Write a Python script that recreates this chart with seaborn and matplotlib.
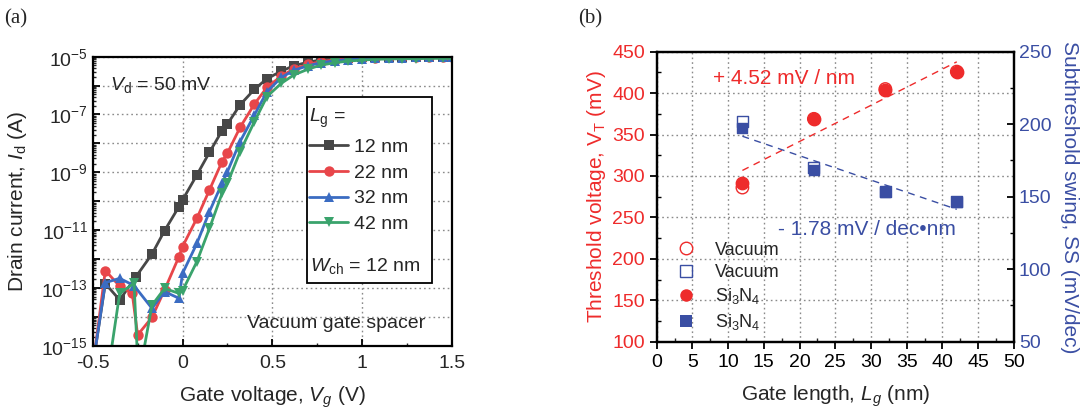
import numpy as np
import pandas as pd
import matplotlib
matplotlib.use("Agg")
import matplotlib.pyplot as plt
import seaborn as sns
from matplotlib.lines import Line2D
from matplotlib.patches import Rectangle
from matplotlib.ticker import LogLocator, MultipleLocator, FixedLocator, FuncFormatter, NullFormatter

# ---------------- data: panel (a) transfer curves ----------------
series_labels = ["12 nm", "22 nm", "32 nm", "42 nm"]

vg_12 = [-0.49, -0.43, -0.35, -0.26, -0.17, -0.10, -0.02, 0.00, 0.08, 0.15, 0.22, 0.25, 0.32, 0.40,
         0.47, 0.55, 0.62, 0.70, 0.77, 0.85, 0.92, 1.00, 1.07, 1.15, 1.22, 1.30, 1.37, 1.45, 1.50]
logid_12 = [-15.3, -12.85, -13.42, -12.62, -11.83, -11.02, -10.19, -9.96, -9.09, -8.31, -7.56, -7.33, -6.67, -6.13,
            -5.76, -5.50, -5.31, -5.19, -5.11, -5.06, -5.03, -5.02, -5.01, -5.00, -5.00, -5.00, -5.00, -5.00, -5.00]

vg_22 = [-0.49, -0.43, -0.35, -0.28, -0.25, -0.17, -0.10, -0.02, 0.00, 0.08, 0.15, 0.22, 0.25, 0.32, 0.40,
         0.47, 0.55, 0.62, 0.70, 0.77, 0.85, 0.92, 1.00, 1.07, 1.15, 1.22, 1.30, 1.37, 1.45, 1.50]
logid_22 = [-15.3, -12.40, -12.94, -13.19, -14.63, -14.02, -13.07, -11.92, -11.57, -10.59, -9.61, -8.63, -8.34, -7.45, -6.64,
            -6.06, -5.67, -5.42, -5.27, -5.17, -5.11, -5.07, -5.05, -5.03, -5.02, -5.01, -5.00, -5.00, -5.00, -5.00]

vg_32 = [-0.49, -0.43, -0.35, -0.27, -0.17, -0.10, -0.02, 0.00, 0.08, 0.15, 0.22, 0.25, 0.32, 0.40,
         0.47, 0.55, 0.62, 0.70, 0.77, 0.85, 0.92, 1.00, 1.07, 1.15, 1.22, 1.30, 1.37, 1.45, 1.50]
logid_32 = [-15.3, -12.82, -12.67, -12.92, -13.71, -13.13, -13.36, -12.50, -11.46, -10.36, -9.38, -8.98, -7.94, -7.02,
            -6.21, -5.72, -5.47, -5.31, -5.21, -5.14, -5.10, -5.07, -5.05, -5.04, -5.03, -5.02, -5.01, -5.01, -5.00]

vg_42 = [-0.40, -0.35, -0.27, -0.25, -0.22, -0.17, -0.10, -0.02, 0.00, 0.08, 0.15, 0.22, 0.25, 0.32, 0.40,
         0.47, 0.55, 0.62, 0.70, 0.77, 0.85, 0.92, 1.00, 1.07, 1.15, 1.22, 1.30, 1.37, 1.45, 1.50]
logid_42 = [-15.3, -13.19, -12.84, -15.5, -15.3, -13.60, -13.02, -13.19, -13.10, -12.09, -10.94, -9.73, -9.38, -8.29, -7.25,
            -6.38, -5.92, -5.63, -5.43, -5.29, -5.21, -5.15, -5.12, -5.09, -5.08, -5.07, -5.07, -5.06, -5.06, -5.06]

# ---------------- data: panel (b) VT and SS vs Lg ----------------
lg_nm = [12, 22, 32, 42]
vt_vacuum = [286, 369, 405, 426]
vt_si3n4 = [291, 369, 404, 425]
ss_vacuum = [201.7, 170.2, 153.4, 146.6]
ss_si3n4 = [197.6, 168.4, 153.4, 146.6]

# ---------------- style ----------------
sns.set_style("ticks")
plt.rcParams["font.family"] = ["Liberation Sans", "DejaVu Sans"]
plt.rcParams["mathtext.fontset"] = "custom"
plt.rcParams["mathtext.rm"] = "Liberation Sans"
plt.rcParams["mathtext.it"] = "Liberation Sans:italic"
plt.rcParams["mathtext.bf"] = "Liberation Sans:bold"
plt.rcParams["axes.linewidth"] = 1.5

pal = {"12 nm": "#474747", "22 nm": "#e8464a", "32 nm": "#3b6cc2", "42 nm": "#3aa36c"}
mks = {"12 nm": "s", "22 nm": "o", "32 nm": "^", "42 nm": "v"}

RED = "#ee2b2b"
BLUE = "#3a4ea3"
GRID = dict(color="#8a8a8a", linestyle=(0, (1.2, 2.2)), linewidth=1.0)

fig = plt.figure(figsize=(10.87, 4.12), dpi=100)
axA = fig.add_axes([0.0853, 0.161, 0.3305, 0.7014])
axB = fig.add_axes([0.6041, 0.1706, 0.3287, 0.7039])

# ---------------- panel (a) ----------------
frames = []
for lab, vg, li in zip(series_labels, [vg_12, vg_22, vg_32, vg_42], [logid_12, logid_22, logid_32, logid_42]):
    frames.append(pd.DataFrame({"Vg": vg, "Id": 10.0 ** np.array(li), "Lg": lab}))
dfA = pd.concat(frames, ignore_index=True)

sns.lineplot(data=dfA, x="Vg", y="Id", hue="Lg", style="Lg", markers=mks, dashes=False,
             palette=pal, sort=False, estimator=None, errorbar=None, ax=axA, legend=False,
             linewidth=2.0, markersize=7.5, markeredgewidth=0)
axA.set_yscale("log")
axA.set_xlim(-0.5, 1.5)
axA.set_ylim(1e-15, 1e-5)
axA.xaxis.set_major_locator(MultipleLocator(0.5))
axA.xaxis.set_minor_locator(MultipleLocator(0.25))
axA.xaxis.set_major_formatter(FuncFormatter(lambda v, p: ("%g" % v) if abs(v) > 1e-9 else "0"))
axA.yaxis.set_major_locator(FixedLocator([10.0 ** e for e in range(-15, -4)]))
axA.yaxis.set_minor_locator(LogLocator(base=10, subs=np.arange(2, 10), numticks=100))
axA.yaxis.set_minor_formatter(NullFormatter())


def _fmt(v, p):
    e = int(round(np.log10(v)))
    return r"$10^{%d}$" % e if e % 2 != 0 else ""


axA.yaxis.set_major_formatter(FuncFormatter(_fmt))
axA.grid(True, which="major", **GRID)
axA.tick_params(axis="both", which="major", labelsize=14, direction="in", length=5, width=1.3, color="black")
axA.tick_params(axis="x", which="major", pad=7)
axA.tick_params(axis="y", which="minor", direction="in", length=2.5, width=1.0)
axA.tick_params(axis="x", which="minor", direction="in", length=2.5, width=1.0)
for s in axA.spines.values():
    s.set_color("black")
    s.set_linewidth(1.6)
axA.set_xlabel(r"Gate voltage, $V_g$ (V)", fontsize=15, labelpad=9)
axA.set_ylabel(r"Drain current, $I_\mathrm{d}$ (A)", fontsize=15, labelpad=9)

axA.text(0.048, 0.902, r"$V_\mathrm{d}$ = 50 mV", transform=axA.transAxes, fontsize=14, va="center", ha="left")
axA.text(0.925, 0.078, "Vacuum gate spacer", transform=axA.transAxes, fontsize=14, va="center", ha="right")

handlesA = [Line2D([], [], color=pal[l], marker=mks[l], markersize=7.5, markeredgewidth=0, linewidth=2.0)
            for l in series_labels]
legA = axA.legend(handlesA, series_labels, title=r"$L_\mathrm{g}$ =", loc="upper left",
                  bbox_to_anchor=(0.592, 0.84), frameon=False, fontsize=14, title_fontsize=14,
                  handlelength=2.0, handletextpad=0.3, labelspacing=0.42, borderpad=0.2, borderaxespad=0)
legA._legend_box.align = "left"
legA.set_zorder(6)
axA.add_patch(Rectangle((0.596, 0.218), 0.348, 0.641, transform=axA.transAxes, fill=True,
                        facecolor="white", edgecolor="black", linewidth=1.3, zorder=4))
axA.text(0.605, 0.275, r"$W_\mathrm{ch}$ = 12 nm", transform=axA.transAxes, fontsize=14,
         va="center", ha="left", zorder=7)

# ---------------- panel (b) ----------------
axB2 = axB.twinx()
dfVT = pd.DataFrame({"Lg": lg_nm, "vac": vt_vacuum, "sin": vt_si3n4})
dfSS = pd.DataFrame({"Lg": lg_nm, "vac": ss_vacuum, "sin": ss_si3n4})

sns.scatterplot(data=dfVT, x="Lg", y="vac", ax=axB, marker="o", s=80, facecolor="none",
                edgecolor=RED, linewidth=1.0, zorder=3)
sns.scatterplot(data=dfVT, x="Lg", y="sin", ax=axB, marker="o", s=80, color=RED,
                edgecolor=RED, linewidth=1.0, zorder=4)
sns.scatterplot(data=dfSS, x="Lg", y="vac", ax=axB2, marker="s", s=62, facecolor="none",
                edgecolor=BLUE, linewidth=1.0, zorder=3)
sns.scatterplot(data=dfSS, x="Lg", y="sin", ax=axB2, marker="s", s=62, color=BLUE,
                edgecolor=BLUE, linewidth=1.0, zorder=4)

# linear fits
kvt = np.polyfit(lg_nm, vt_si3n4, 1)
kss = np.polyfit(lg_nm, ss_si3n4, 1)
xfit = np.array([lg_nm[0], lg_nm[-1]], dtype=float)
axB.plot(xfit, np.polyval(kvt, xfit), color=RED, linestyle=(0, (5, 4)), linewidth=1.0, zorder=2)
axB2.plot(xfit, np.polyval(kss, xfit), color=BLUE, linestyle=(0, (5, 4)), linewidth=1.0, zorder=2)

axB.set_xlim(0, 50)
axB.set_ylim(100, 450)
axB2.set_ylim(50, 250)
axB.xaxis.set_major_locator(MultipleLocator(5))
axB.xaxis.set_minor_locator(MultipleLocator(2.5))
axB.yaxis.set_major_locator(MultipleLocator(50))
axB.yaxis.set_minor_locator(MultipleLocator(25))
axB2.yaxis.set_major_locator(MultipleLocator(50))
axB2.yaxis.set_minor_locator(MultipleLocator(25))
axB.grid(True, which="major", **GRID)
axB.set_axisbelow(True)

axB.tick_params(axis="x", which="major", labelsize=14, direction="out", length=5, width=1.3, colors="black")
axB.tick_params(axis="x", which="minor", direction="in", length=3, width=1.0)
axB.tick_params(axis="y", which="major", labelsize=14, direction="out", length=5, width=1.3,
                color="black", labelcolor=RED)
axB.tick_params(axis="y", which="minor", direction="in", length=3, width=1.0, color="black")
axB2.tick_params(axis="y", which="major", labelsize=14, direction="in", length=5, width=1.3,
                 color="black", labelcolor=BLUE)
axB2.tick_params(axis="y", which="minor", direction="in", length=3, width=1.0, color="black")
for a in (axB, axB2):
    for s in a.spines.values():
        s.set_color("black")
        s.set_linewidth(1.6)

axB.set_xlabel(r"Gate length, $L_g$ (nm)", fontsize=15, labelpad=9)
axB.set_ylabel(r"Threshold voltage, V$_\mathrm{T}$ (mV)", fontsize=15, color=RED, labelpad=3)
axB2.set_ylabel("Subthreshold swing, SS (mV/dec)", fontsize=15, color=BLUE, rotation=270, labelpad=20)

axB.text(7.9, 418, "+ 4.52 mV / nm", fontsize=15, color=RED, ha="left", va="center")
axB.text(17.0, 235, "- 1.78 mV / dec\u2022nm", fontsize=15, color=BLUE, ha="left", va="center")

handlesB = [
    Line2D([], [], linestyle="none", marker="o", markersize=9, markerfacecolor="none",
           markeredgecolor=RED, markeredgewidth=1.0),
    Line2D([], [], linestyle="none", marker="s", markersize=8, markerfacecolor="none",
           markeredgecolor=BLUE, markeredgewidth=1.0),
    Line2D([], [], linestyle="none", marker="o", markersize=9, color=RED, markeredgewidth=0),
    Line2D([], [], linestyle="none", marker="s", markersize=8, color=BLUE, markeredgewidth=0),
]
labelsB = ["Vacuum", "Vacuum", r"Si$_3$N$_4$", r"Si$_3$N$_4$"]
axB2.legend(handlesB, labelsB, loc="upper left", bbox_to_anchor=(0.058, 0.345), frameon=False,
            fontsize=13, handlelength=1.0, handletextpad=1.1, labelspacing=0.3, borderpad=0,
            borderaxespad=0)

fig.text(0.004, 0.955, "(a)", fontsize=15, family="Liberation Serif", va="center", ha="left")
fig.text(0.532, 0.955, "(b)", fontsize=15, family="Liberation Serif", va="center", ha="left")

fig.savefig("out.png", dpi=100)
